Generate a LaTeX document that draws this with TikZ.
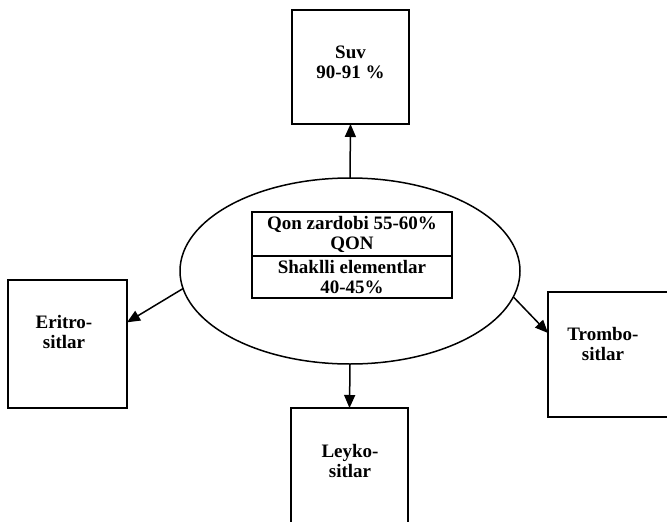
\documentclass[tikz,border=0pt]{standalone}
\usepackage{fontspec}
\setmainfont{Liberation Serif}
\usetikzlibrary{arrows.meta,shapes.geometric}
\begin{document}
\begin{tikzpicture}[x=1pt,y=-1pt,
  every node/.style={inner sep=0pt,outer sep=0pt},
  boxnode/.style={draw,line width=1.5pt,rectangle},
  lbl/.style={font=\fontsize{19}{20}\selectfont\bfseries,align=center},
  conn/.style={line width=1.5pt,-{Triangle[length=13pt,width=11pt]}}]
\useasboundingbox (0,0) rectangle (667,522);
\clip (0,0) rectangle (667,522);
% boxes
\node[boxnode,minimum width=117pt,minimum height=114pt] (suv) at (350.5,67) {};
\node[lbl] (suvt) at (350.5,62) {Suv\\90-91 \%};
\node[boxnode,minimum width=119pt,minimum height=128pt] (eritro) at (67.5,344) {};
\node[lbl] (eritrot) at (64,332) {Eritro-\\sitlar};
\node[boxnode,minimum width=124pt,minimum height=125pt] (trombo) at (610,354.5) {};
\node[lbl] (trombot) at (603,344) {Trombo-\\sitlar};
\node[boxnode,minimum width=117pt,minimum height=130pt] (leyko) at (349.5,473) {};
\node[lbl] (leykot) at (350,461) {Leyko-\\sitlar};
% ellipse
\node[draw,line width=1.5pt,ellipse,minimum width=340pt,minimum height=186pt] (ell) at (350,271) {};
% inner table
\node[draw,line width=1.3pt,minimum width=200pt,minimum height=44pt,lbl] (qon) at (352,234) {Qon zardobi 55-60\%\\QON};
\node[draw,line width=1.3pt,minimum width=200pt,minimum height=42pt,lbl,anchor=north] (shakl) at (qon.south) {Shaklli elementlar\\40-45\%};
% connectors
\coordinate (tromboin) at (548,333);
\draw[conn] (ell.north) -- (suv.south);
\draw[conn] (ell.south) -- (leyko.north);
\draw[conn] (ell.186.5) -- (eritro.20);
\draw[conn] (ell.-9.5) -- (tromboin);
\end{tikzpicture}
\end{document}
